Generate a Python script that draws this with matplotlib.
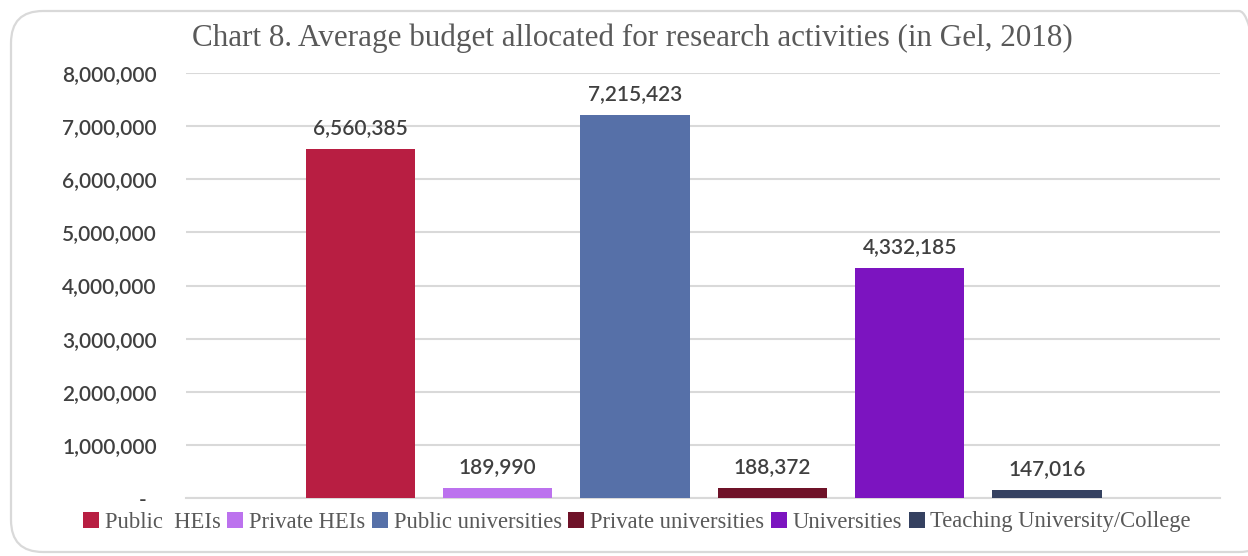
import numpy as np
import matplotlib.pyplot as plt
from matplotlib.patches import FancyBboxPatch
from matplotlib.ticker import FuncFormatter

categories = ['Public  HEIs', 'Private HEIs', 'Public universities',
              'Private universities', 'Universities', 'Teaching University/College']
values = [6560385, 189990, 7215423, 188372, 4332185, 147016]
colors = ['#B81E42', '#BC72EE', '#5670A8', '#6E1228', '#7C14C0', '#354160']
title = 'Chart 8. Average budget allocated for research activities (in Gel, 2018)'

fig = plt.figure(figsize=(12.48, 5.56), dpi=100)

## rounded frame around the whole chart
frame = FancyBboxPatch((11, 4), 1260, 541, boxstyle='round,pad=0,rounding_size=32',
                       transform=None, facecolor='none', edgecolor='#d9d9d9',
                       linewidth=1.6, zorder=-1)
fig.patches.append(frame)

ax = fig.add_axes([186/1248, 1-498/556, (1220-186)/1248, (498-73)/556])
ax.set_facecolor('none')

x = np.arange(len(values))
for i, (cat, val, col) in enumerate(zip(categories, values, colors)):
    ax.bar(x[i], val, width=0.795, color=col, label=cat, zorder=3)
    ax.annotate(f'{val:,}', (x[i], val), xytext=(0, 8), textcoords='offset points',
                ha='center', va='bottom', fontsize=15, family='Lato',
                fontweight='semibold', color='#404040')

ax.set_xlim(-1.27, 6.26)
ax.set_ylim(0, 8000000)
ax.set_yticks(np.arange(0, 8000001, 1000000))
ax.yaxis.set_major_formatter(FuncFormatter(lambda v, p: '-  ' if v == 0 else f'{int(v):,}'))
ax.set_xticks([])
ax.grid(axis='y', color='#d9d9d9', linewidth=1.5, zorder=0)
ax.set_axisbelow(True)
ax.tick_params(axis='y', length=0, pad=21, labelsize=15, labelcolor='#404040')
for lab in ax.get_yticklabels():
    lab.set_family('Lato')
    lab.set_fontweight('semibold')
for s in ['top', 'right', 'left']:
    ax.spines[s].set_visible(False)
ax.spines['bottom'].set_color('#d9d9d9')
ax.spines['bottom'].set_linewidth(1.5)

fig.text(632/1248, 1-38/556, title, ha='center', va='center', fontsize=22.4,
         family='Liberation Serif', color='#595959')

fig.legend(loc='center', bbox_to_anchor=(637/1248, 1-522/556), ncol=6, frameon=False,
           handlelength=0.7, handleheight=0.7, handletextpad=0.25, columnspacing=0.3,
           prop={'family': 'Liberation Serif', 'size': 16.3}, labelcolor='#595959')

fig.savefig('out.png', dpi=100)
